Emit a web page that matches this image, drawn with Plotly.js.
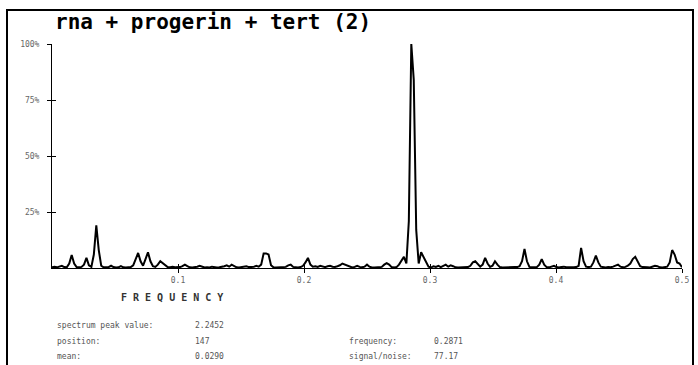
<!DOCTYPE html>
<html><head><meta charset="utf-8">
<script src="https://cdn.plot.ly/plotly-3.0.1.min.js"></script>
<style>html,body{margin:0;padding:0;background:#fff}#c{width:698px;height:365px}</style>
</head><body><div id="c"></div>
<script>
// Spectrum amplitude (% of peak), one value per frequency bin, bins 0..256 (freq = bin/512)
const spectrum = [
 0.3,0.5,0.3,0.8,1.0,0.4,0.3,2.0,5.8,2.0,0.4,0.3,0.5,1.5,4.5,1.2,
 0.5,6,19,8,1,0.3,0.2,0.4,1,0.4,0.2,0.3,0.8,0.3,0.2,0.3,
 0.4,1.2,4,6.7,3,1,4,7,3,0.8,0.5,1.5,3,2,1,0.4,
 0.3,0.5,0.3,0.2,0.4,0.8,1.5,0.8,0.3,0.2,0.3,0.6,1,0.5,0.2,0.3,
 0.2,0.6,0.3,0.2,0.3,0.4,0.8,1.2,0.6,1.5,0.8,0.3,0.2,0.3,0.6,0.8,
 0.4,0.3,0.5,1,0.6,1.5,6.5,6.5,6,1.2,0.3,0.2,0.3,0.4,0.7,0.5,
 1.2,1.5,0.5,0.3,0.2,0.4,1,2.5,4.5,1.5,0.6,0.8,0.5,1,0.6,0.4,
 0.8,1,0.6,0.5,0.8,1.2,2,1.5,1,0.4,0.2,0.5,1,0.5,0.3,0.6,
 1.5,0.6,0.2,0.2,0.3,0.2,0.5,1.5,2.2,1.5,0.4,0.2,0.4,1.5,3,5,
 2,21,100,84,17,2,7,5,2.5,0.6,0.2,0.8,0.5,1,0.4,0.8,
 1.5,0.6,1.2,0.8,0.3,0.2,0.2,0.3,0.2,0.4,1,2.5,3,2,0.6,1.5,
 4.5,2,0.5,1,3,1.5,0.4,0.2,0.3,0.2,0.2,0.3,0.5,0.4,0.8,3,
 8.5,3,0.5,0.3,0.2,0.4,1.5,4,1.5,0.4,0.3,0.5,1,0.4,0.2,0.4,
 0.6,0.3,0.2,0.2,0.3,0.4,1,9,3,0.6,0.4,0.6,2.5,5.5,2.5,0.6,
 0.3,0.2,0.4,0.3,0.6,1.2,1.5,0.6,0.3,0.5,1,2,4,5,2.5,0.8,
 0.4,0.2,0.3,0.2,0.5,1,0.8,0.3,0.2,0.3,0.6,2.5,8,6,2.5,2,0.3
];
const binWidth = 1/512;
const xTickVals = [0.1,0.2,0.3,0.4,0.5];
const xTickText = ["0.1","0.2","0.3","0.4","0.5"];
const yTickVals = [25,50,75,100];
const yTickText = ["25%","50%","75%","100%"];
const titleText = "rna + progerin + tert (2)";
const xLabel = "F R E Q U E N C Y";
const infoLabels = ["spectrum peak value:","position:","mean:","frequency:","signal/noise:"];
const infoValues = ["2.2452","147","0.0290","0.2871","77.17"];

const L=52, R=682, T=44, B=268;
function px(x){return (x-L)/(R-L);}
function py(y){return (B-y)/(B-T);}
const infoFont = {family:"DejaVu Sans Mono", size:8, color:"#555"};
const infoPos = [[55,193,325],[55,193,341],[55,193,356],[347,432,341],[347,432,356]];
const ann = [];
infoPos.forEach((p,i)=>{
  ann.push({xref:'paper',yref:'paper',x:px(p[0]),y:py(p[2]),xanchor:'left',yanchor:'middle',text:infoLabels[i],showarrow:false,font:infoFont});
  ann.push({xref:'paper',yref:'paper',x:px(p[1]),y:py(p[2]),xanchor:'left',yanchor:'middle',text:infoValues[i],showarrow:false,font:infoFont});
});
ann.push({xref:'paper',yref:'paper',x:px(172),y:py(297),xanchor:'center',yanchor:'middle',text:xLabel,showarrow:false,font:{family:"DejaVu Sans Mono",size:10,color:'#333',weight:'bold'}});

const traces = [
 {type:'scatter',mode:'lines',x0:0,dx:binWidth,y:spectrum,line:{color:'#000',width:2},hoverinfo:'skip',cliponaxis:false},
 {type:'scatter',mode:'lines',x0:0,dx:binWidth,y:spectrum,xaxis:'x2',yaxis:'y2',opacity:0,hoverinfo:'skip',showlegend:false}
];
const axBase = {showgrid:false,zeroline:false,linecolor:'#000',linewidth:1,tickcolor:'#000',tickwidth:1,ticklen:4};
const layout = {
 width:698,height:365,margin:{l:L,r:698-R,t:T,b:365-B},
 paper_bgcolor:'#fff',plot_bgcolor:'#fff',showlegend:false,
 title:{text:titleText,x:55/698,xref:'container',xanchor:'left',y:1-22/365,yref:'container',yanchor:'middle',
   font:{family:"DejaVu Sans Mono",size:21,color:'#000',weight:'bold'}},
 xaxis:Object.assign({},axBase,{range:[0,0.5],showline:true,ticks:'outside',tickvals:xTickVals,ticktext:xTickText,
   tickfont:{family:"DejaVu Sans Mono",size:8,color:'#666'},anchor:'y'}),
 yaxis:Object.assign({},axBase,{range:[0,100],showline:true,ticks:'outside',tickvals:yTickVals,ticktext:yTickText,
   tickfont:{family:"DejaVu Sans Mono",size:8,color:'#666'},ticklabelstandoff:6}),
 xaxis2:Object.assign({},axBase,{range:[0,0.5],overlaying:'x',anchor:'y2',side:'bottom',ticks:'inside',tickvals:xTickVals,showticklabels:false,showline:false}),
 yaxis2:Object.assign({},axBase,{range:[0,100],overlaying:'y',anchor:'x2',side:'left',ticks:'inside',tickvals:yTickVals,showticklabels:false,showline:false}),
 annotations:ann,
 shapes:[{type:'rect',xref:'paper',yref:'paper',x0:px(7),x1:px(693),y0:py(370),y1:py(10),line:{color:'#000',width:2},fillcolor:'rgba(0,0,0,0)'}]
};
Plotly.newPlot('c',traces,layout,{staticPlot:true});
</script></body></html>
